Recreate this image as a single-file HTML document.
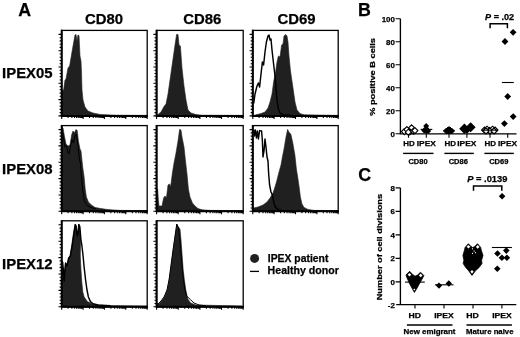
<!DOCTYPE html>
<html><head><meta charset="utf-8"><title>Figure</title>
<style>
html,body{margin:0;padding:0;background:#fff;}
svg{display:block;}
text{font-family:"Liberation Sans",Arial,Helvetica,sans-serif;font-weight:bold;fill:#000;stroke:#000;stroke-width:0.25px;}
.L{font-size:17.8px;}
.h{font-size:14.9px;}
.lg{font-size:10.4px;}
.m{font-size:7.9px;}
.s{font-size:7.9px;}
.s2{font-size:7.5px;}
.p{font-size:9.1px;}
</style></head><body>
<svg width="520" height="337" viewBox="0 0 520 337">
<rect width="520" height="337" fill="#fff"/>
<text x="18.3" y="16" class="L">A</text>
<text x="358.1" y="16" class="L">B</text>
<text x="358.2" y="181.2" class="L">C</text>
<text x="104" y="24" text-anchor="middle" class="h">CD80</text>
<text x="202.2" y="24" text-anchor="middle" class="h">CD86</text>
<text x="296.6" y="24" text-anchor="middle" class="h">CD69</text>
<text x="2.1" y="78.4" class="h">IPEX05</text>
<text x="2.1" y="174" class="h">IPEX08</text>
<text x="2.1" y="268.6" class="h">IPEX12</text>
<polygon points="61.6,115.9 61.6,91.0 63.6,90.0 65.0,80.0 66.0,79.0 68.0,68.0 69.6,66.0 73.0,46.0 75.0,35.0 76.0,34.4 77.0,41.0 78.0,35.0 79.0,35.6 80.0,56.0 81.0,61.0 81.5,72.0 82.0,90.0 83.0,100.0 85.0,107.0 88.0,111.0 93.0,113.0 100.0,114.4 116.0,115.2 147.0,115.4 147.0,115.9" fill="#202020" stroke="#202020" stroke-width="0.6" stroke-linejoin="round"/>
<rect x="61.7" y="30.4" width="85.5" height="85.5" fill="none" stroke="#000" stroke-width="1.3"/>
<path d="M61.7 29.8V115.9H147.8" fill="none" stroke="#000" stroke-width="2" stroke-linejoin="miter"/>
<path d="M58.5 34.4H61.7M59.6 37.7H61.7M59.6 40.9H61.7M59.6 44.2H61.7M59.6 47.4H61.7M58.5 50.7H61.7M59.6 54.0H61.7M59.6 57.2H61.7M59.6 60.5H61.7M59.6 63.7H61.7M58.5 67.0H61.7M59.6 70.3H61.7M59.6 73.5H61.7M59.6 76.8H61.7M59.6 80.0H61.7M58.5 83.3H61.7M59.6 86.6H61.7M59.6 89.8H61.7M59.6 93.1H61.7M59.6 96.3H61.7M58.5 99.6H61.7M59.6 102.9H61.7M59.6 106.1H61.7M59.6 109.4H61.7M59.6 112.6H61.7M58.5 115.9H61.7M61.7 115.9V118.9M68.1 115.9V117.9M71.9 115.9V117.9M74.6 115.9V117.9M76.6 115.9V117.9M78.3 115.9V117.9M79.8 115.9V117.9M81.0 115.9V117.9M82.1 115.9V117.9M83.1 115.9V118.9M89.5 115.9V117.9M93.3 115.9V117.9M95.9 115.9V117.9M98.0 115.9V117.9M99.7 115.9V117.9M101.1 115.9V117.9M102.4 115.9V117.9M103.5 115.9V117.9M104.4 115.9V118.9M110.9 115.9V117.9M114.6 115.9V117.9M117.3 115.9V117.9M119.4 115.9V117.9M121.1 115.9V117.9M122.5 115.9V117.9M123.8 115.9V117.9M124.8 115.9V117.9M125.8 115.9V118.9M132.3 115.9V117.9M136.0 115.9V117.9M138.7 115.9V117.9M140.8 115.9V117.9M142.5 115.9V117.9M143.9 115.9V117.9M145.1 115.9V117.9M146.2 115.9V117.9M147.2 115.9V118.9" stroke="#000" stroke-width="1.1" fill="none"/>
<polygon points="156.6,115.9 158.0,114.4 161.0,112.0 164.0,106.4 166.0,104.0 168.0,94.0 170.0,80.0 172.0,66.0 175.0,45.0 176.6,34.4 178.0,34.4 179.0,45.0 180.4,46.0 182.0,68.0 184.0,86.0 186.0,100.0 188.0,110.0 191.0,113.0 196.0,114.6 202.0,115.2 242.0,115.4 242.0,115.9" fill="#202020" stroke="#202020" stroke-width="0.6" stroke-linejoin="round"/>
<rect x="156.6" y="30.4" width="86.6" height="85.5" fill="none" stroke="#000" stroke-width="1.3"/>
<path d="M156.6 29.8V115.9H243.8" fill="none" stroke="#000" stroke-width="2" stroke-linejoin="miter"/>
<path d="M153.4 34.4H156.6M154.5 37.7H156.6M154.5 40.9H156.6M154.5 44.2H156.6M154.5 47.4H156.6M153.4 50.7H156.6M154.5 54.0H156.6M154.5 57.2H156.6M154.5 60.5H156.6M154.5 63.7H156.6M153.4 67.0H156.6M154.5 70.3H156.6M154.5 73.5H156.6M154.5 76.8H156.6M154.5 80.0H156.6M153.4 83.3H156.6M154.5 86.6H156.6M154.5 89.8H156.6M154.5 93.1H156.6M154.5 96.3H156.6M153.4 99.6H156.6M154.5 102.9H156.6M154.5 106.1H156.6M154.5 109.4H156.6M154.5 112.6H156.6M153.4 115.9H156.6M156.6 115.9V118.9M163.1 115.9V117.9M166.9 115.9V117.9M169.6 115.9V117.9M171.7 115.9V117.9M173.4 115.9V117.9M174.9 115.9V117.9M176.2 115.9V117.9M177.3 115.9V117.9M178.2 115.9V118.9M184.8 115.9V117.9M188.6 115.9V117.9M191.3 115.9V117.9M193.4 115.9V117.9M195.1 115.9V117.9M196.5 115.9V117.9M197.8 115.9V117.9M198.9 115.9V117.9M199.9 115.9V118.9M206.4 115.9V117.9M210.2 115.9V117.9M212.9 115.9V117.9M215.0 115.9V117.9M216.7 115.9V117.9M218.2 115.9V117.9M219.5 115.9V117.9M220.6 115.9V117.9M221.5 115.9V118.9M228.1 115.9V117.9M231.9 115.9V117.9M234.6 115.9V117.9M236.7 115.9V117.9M238.4 115.9V117.9M239.8 115.9V117.9M241.1 115.9V117.9M242.2 115.9V117.9M243.2 115.9V118.9" stroke="#000" stroke-width="1.1" fill="none"/>
<polygon points="252.8,115.9 256.0,114.8 261.0,113.6 265.0,112.0 268.0,108.0 270.0,102.0 272.0,94.0 273.6,82.0 275.6,72.0 277.0,62.0 278.4,56.0 280.0,57.0 281.6,45.0 283.0,44.0 284.0,36.0 285.6,34.4 287.0,36.0 288.0,42.0 289.0,56.0 290.4,70.0 291.5,78.0 293.0,88.0 295.0,102.0 297.0,110.0 300.0,113.6 304.0,114.8 338.0,115.4 338.0,115.9" fill="#202020" stroke="#202020" stroke-width="0.6" stroke-linejoin="round"/>
<polyline points="253.8,103.0 255.0,94.0 257.0,86.0 258.4,83.0 259.6,87.0 261.0,74.0 262.4,62.0 263.6,65.0 265.0,52.0 266.4,42.0 268.0,36.0 269.0,35.0 270.0,40.0 271.0,39.0 272.0,50.0 273.6,64.0 275.0,76.0 276.0,88.0 277.0,100.0 278.4,109.0 280.0,113.0 283.0,114.6 290.0,115.2" fill="none" stroke="#000" stroke-width="1.45" stroke-linejoin="round" stroke-linecap="round"/>
<rect x="252.8" y="30.4" width="85.4" height="85.5" fill="none" stroke="#000" stroke-width="1.3"/>
<path d="M252.8 29.8V115.9H338.8" fill="none" stroke="#000" stroke-width="2" stroke-linejoin="miter"/>
<path d="M249.6 34.4H252.8M250.7 37.7H252.8M250.7 40.9H252.8M250.7 44.2H252.8M250.7 47.4H252.8M249.6 50.7H252.8M250.7 54.0H252.8M250.7 57.2H252.8M250.7 60.5H252.8M250.7 63.7H252.8M249.6 67.0H252.8M250.7 70.3H252.8M250.7 73.5H252.8M250.7 76.8H252.8M250.7 80.0H252.8M249.6 83.3H252.8M250.7 86.6H252.8M250.7 89.8H252.8M250.7 93.1H252.8M250.7 96.3H252.8M249.6 99.6H252.8M250.7 102.9H252.8M250.7 106.1H252.8M250.7 109.4H252.8M250.7 112.6H252.8M249.6 115.9H252.8M252.8 115.9V118.9M259.2 115.9V117.9M263.0 115.9V117.9M265.7 115.9V117.9M267.7 115.9V117.9M269.4 115.9V117.9M270.8 115.9V117.9M272.1 115.9V117.9M273.2 115.9V117.9M274.1 115.9V118.9M280.6 115.9V117.9M284.3 115.9V117.9M287.0 115.9V117.9M289.1 115.9V117.9M290.8 115.9V117.9M292.2 115.9V117.9M293.4 115.9V117.9M294.5 115.9V117.9M295.5 115.9V118.9M301.9 115.9V117.9M305.7 115.9V117.9M308.4 115.9V117.9M310.4 115.9V117.9M312.1 115.9V117.9M313.5 115.9V117.9M314.8 115.9V117.9M315.9 115.9V117.9M316.9 115.9V118.9M323.3 115.9V117.9M327.0 115.9V117.9M329.7 115.9V117.9M331.8 115.9V117.9M333.5 115.9V117.9M334.9 115.9V117.9M336.1 115.9V117.9M337.2 115.9V117.9M338.2 115.9V118.9" stroke="#000" stroke-width="1.1" fill="none"/>
<polygon points="61.6,211.3 61.6,127.0 63.0,128.0 64.4,136.0 66.0,144.0 68.0,146.0 70.0,145.0 71.6,135.0 73.0,131.0 74.4,133.0 76.0,129.4 77.2,130.6 78.4,141.0 80.0,149.0 81.0,151.0 82.8,168.0 84.0,176.0 85.2,189.0 86.4,197.0 88.4,202.0 91.4,205.0 95.0,207.4 101.0,208.6 108.0,209.6 120.0,210.4 147.0,210.6 147.0,211.3" fill="#202020" stroke="#202020" stroke-width="0.6" stroke-linejoin="round"/>
<polyline points="62.0,129.0 63.5,138.0 65.0,147.0 66.5,146.0 68.0,153.0 69.0,154.0 70.5,146.0 72.0,140.0 73.5,143.0 75.0,136.0 76.5,134.0 78.0,146.0 79.5,160.0 80.5,163.0 81.5,178.0 83.0,192.0 84.5,201.0 87.0,205.5 91.0,207.5 96.0,208.8" fill="none" stroke="#000" stroke-width="1" stroke-linejoin="round"/>
<rect x="61.7" y="125.6" width="85.5" height="85.7" fill="none" stroke="#000" stroke-width="1.3"/>
<path d="M61.7 125.0V211.3H147.8" fill="none" stroke="#000" stroke-width="2" stroke-linejoin="miter"/>
<path d="M58.5 129.6H61.7M59.6 132.9H61.7M59.6 136.1H61.7M59.6 139.4H61.7M59.6 142.7H61.7M58.5 145.9H61.7M59.6 149.2H61.7M59.6 152.5H61.7M59.6 155.7H61.7M59.6 159.0H61.7M58.5 162.3H61.7M59.6 165.5H61.7M59.6 168.8H61.7M59.6 172.1H61.7M59.6 175.4H61.7M58.5 178.6H61.7M59.6 181.9H61.7M59.6 185.2H61.7M59.6 188.4H61.7M59.6 191.7H61.7M58.5 195.0H61.7M59.6 198.2H61.7M59.6 201.5H61.7M59.6 204.8H61.7M59.6 208.0H61.7M58.5 211.3H61.7M61.7 211.3V214.3M68.1 211.3V213.3M71.9 211.3V213.3M74.6 211.3V213.3M76.6 211.3V213.3M78.3 211.3V213.3M79.8 211.3V213.3M81.0 211.3V213.3M82.1 211.3V213.3M83.1 211.3V214.3M89.5 211.3V213.3M93.3 211.3V213.3M95.9 211.3V213.3M98.0 211.3V213.3M99.7 211.3V213.3M101.1 211.3V213.3M102.4 211.3V213.3M103.5 211.3V213.3M104.4 211.3V214.3M110.9 211.3V213.3M114.6 211.3V213.3M117.3 211.3V213.3M119.4 211.3V213.3M121.1 211.3V213.3M122.5 211.3V213.3M123.8 211.3V213.3M124.8 211.3V213.3M125.8 211.3V214.3M132.3 211.3V213.3M136.0 211.3V213.3M138.7 211.3V213.3M140.8 211.3V213.3M142.5 211.3V213.3M143.9 211.3V213.3M145.1 211.3V213.3M146.2 211.3V213.3M147.2 211.3V214.3" stroke="#000" stroke-width="1.1" fill="none"/>
<polygon points="156.6,211.3 157.6,189.0 158.4,200.0 159.0,206.0 162.0,206.0 163.6,198.0 165.0,196.0 166.4,198.0 168.0,185.0 169.6,184.0 170.6,187.0 172.4,173.0 174.0,163.0 176.0,153.0 178.0,141.0 179.6,129.4 181.0,130.0 182.0,137.0 184.0,147.0 185.6,162.0 187.0,174.0 188.4,189.0 190.0,197.0 192.4,203.0 195.0,206.0 198.0,208.6 202.0,209.8 210.0,210.4 242.0,210.6 242.0,211.3" fill="#202020" stroke="#202020" stroke-width="0.6" stroke-linejoin="round"/>
<rect x="156.6" y="125.6" width="86.6" height="85.7" fill="none" stroke="#000" stroke-width="1.3"/>
<path d="M156.6 125.0V211.3H243.8" fill="none" stroke="#000" stroke-width="2" stroke-linejoin="miter"/>
<path d="M153.4 129.6H156.6M154.5 132.9H156.6M154.5 136.1H156.6M154.5 139.4H156.6M154.5 142.7H156.6M153.4 145.9H156.6M154.5 149.2H156.6M154.5 152.5H156.6M154.5 155.7H156.6M154.5 159.0H156.6M153.4 162.3H156.6M154.5 165.5H156.6M154.5 168.8H156.6M154.5 172.1H156.6M154.5 175.4H156.6M153.4 178.6H156.6M154.5 181.9H156.6M154.5 185.2H156.6M154.5 188.4H156.6M154.5 191.7H156.6M153.4 195.0H156.6M154.5 198.2H156.6M154.5 201.5H156.6M154.5 204.8H156.6M154.5 208.0H156.6M153.4 211.3H156.6M156.6 211.3V214.3M163.1 211.3V213.3M166.9 211.3V213.3M169.6 211.3V213.3M171.7 211.3V213.3M173.4 211.3V213.3M174.9 211.3V213.3M176.2 211.3V213.3M177.3 211.3V213.3M178.2 211.3V214.3M184.8 211.3V213.3M188.6 211.3V213.3M191.3 211.3V213.3M193.4 211.3V213.3M195.1 211.3V213.3M196.5 211.3V213.3M197.8 211.3V213.3M198.9 211.3V213.3M199.9 211.3V214.3M206.4 211.3V213.3M210.2 211.3V213.3M212.9 211.3V213.3M215.0 211.3V213.3M216.7 211.3V213.3M218.2 211.3V213.3M219.5 211.3V213.3M220.6 211.3V213.3M221.5 211.3V214.3M228.1 211.3V213.3M231.9 211.3V213.3M234.6 211.3V213.3M236.7 211.3V213.3M238.4 211.3V213.3M239.8 211.3V213.3M241.1 211.3V213.3M242.2 211.3V213.3M243.2 211.3V214.3" stroke="#000" stroke-width="1.1" fill="none"/>
<polygon points="252.8,211.3 253.6,208.0 258.0,207.0 263.0,205.0 267.0,202.0 270.0,198.0 273.0,193.0 275.0,187.0 277.0,180.0 279.0,172.0 281.0,165.0 282.4,157.0 284.0,149.0 286.0,137.0 287.6,129.4 289.2,132.5 290.8,134.0 292.8,143.0 294.9,155.0 296.4,169.0 297.7,177.0 299.0,186.0 300.4,197.0 302.0,204.0 304.0,207.4 308.0,209.4 314.0,210.4 338.0,210.6 338.0,211.3" fill="#202020" stroke="#202020" stroke-width="0.6" stroke-linejoin="round"/>
<polyline points="253.8,130.0 254.4,136.0 255.4,130.0 256.4,138.0 257.4,131.0 258.4,139.0 259.6,130.6 261.6,131.0 262.4,141.0 263.0,157.0 264.0,151.0 265.0,139.0 266.0,147.0 267.0,157.0 268.0,161.0 268.6,173.0 269.6,185.0 271.0,192.0 272.4,195.0 274.0,203.0 275.6,207.4 278.0,209.4 282.0,210.4 290.0,210.6" fill="none" stroke="#000" stroke-width="1.45" stroke-linejoin="round" stroke-linecap="round"/>
<rect x="252.8" y="125.6" width="85.4" height="85.7" fill="none" stroke="#000" stroke-width="1.3"/>
<path d="M252.8 125.0V211.3H338.8" fill="none" stroke="#000" stroke-width="2" stroke-linejoin="miter"/>
<path d="M249.6 129.6H252.8M250.7 132.9H252.8M250.7 136.1H252.8M250.7 139.4H252.8M250.7 142.7H252.8M249.6 145.9H252.8M250.7 149.2H252.8M250.7 152.5H252.8M250.7 155.7H252.8M250.7 159.0H252.8M249.6 162.3H252.8M250.7 165.5H252.8M250.7 168.8H252.8M250.7 172.1H252.8M250.7 175.4H252.8M249.6 178.6H252.8M250.7 181.9H252.8M250.7 185.2H252.8M250.7 188.4H252.8M250.7 191.7H252.8M249.6 195.0H252.8M250.7 198.2H252.8M250.7 201.5H252.8M250.7 204.8H252.8M250.7 208.0H252.8M249.6 211.3H252.8M252.8 211.3V214.3M259.2 211.3V213.3M263.0 211.3V213.3M265.7 211.3V213.3M267.7 211.3V213.3M269.4 211.3V213.3M270.8 211.3V213.3M272.1 211.3V213.3M273.2 211.3V213.3M274.1 211.3V214.3M280.6 211.3V213.3M284.3 211.3V213.3M287.0 211.3V213.3M289.1 211.3V213.3M290.8 211.3V213.3M292.2 211.3V213.3M293.4 211.3V213.3M294.5 211.3V213.3M295.5 211.3V214.3M301.9 211.3V213.3M305.7 211.3V213.3M308.4 211.3V213.3M310.4 211.3V213.3M312.1 211.3V213.3M313.5 211.3V213.3M314.8 211.3V213.3M315.9 211.3V213.3M316.9 211.3V214.3M323.3 211.3V213.3M327.0 211.3V213.3M329.7 211.3V213.3M331.8 211.3V213.3M333.5 211.3V213.3M334.9 211.3V213.3M336.1 211.3V213.3M337.2 211.3V213.3M338.2 211.3V214.3" stroke="#000" stroke-width="1.1" fill="none"/>
<polygon points="61.7,306.8 61.7,266.0 63.0,268.0 64.0,274.0 65.6,263.0 67.0,266.0 68.4,258.0 70.0,256.0 71.6,246.0 73.0,236.0 74.2,229.0 75.2,224.2 76.0,225.0 76.8,233.0 77.3,236.0 78.0,233.0 78.8,224.2 79.6,225.0 80.2,231.0 80.5,243.0 80.3,256.0 81.0,270.0 81.8,282.0 82.8,292.0 84.2,297.0 87.4,301.4 91.0,303.4 96.0,304.8 104.0,305.6 147.0,306.0 147.0,306.8" fill="#202020" stroke="#202020" stroke-width="0.6" stroke-linejoin="round"/>
<polyline points="62.6,262.0 63.4,270.0 64.2,281.0 65.6,263.0 67.0,266.0 68.8,258.0 70.4,256.0 72.2,246.0 73.6,236.0 74.6,229.0 75.3,224.6 76.0,226.0 76.8,233.0 77.3,236.0 78.0,233.0 78.8,224.6 79.6,226.0 80.3,232.0 80.9,240.0 81.8,245.0 83.0,255.0 84.0,266.0 85.6,280.0 87.0,290.0 88.4,297.0 90.4,301.6 93.0,303.8 98.0,305.0 110.0,305.8" fill="none" stroke="#000" stroke-width="1.45" stroke-linejoin="round" stroke-linecap="round"/>
<rect x="61.7" y="220.8" width="85.5" height="86.0" fill="none" stroke="#000" stroke-width="1.3"/>
<path d="M61.7 220.2V306.8H147.8" fill="none" stroke="#000" stroke-width="2" stroke-linejoin="miter"/>
<path d="M58.5 224.8H61.7M59.6 228.1H61.7M59.6 231.4H61.7M59.6 234.6H61.7M59.6 237.9H61.7M58.5 241.2H61.7M59.6 244.5H61.7M59.6 247.8H61.7M59.6 251.0H61.7M59.6 254.3H61.7M58.5 257.6H61.7M59.6 260.9H61.7M59.6 264.2H61.7M59.6 267.4H61.7M59.6 270.7H61.7M58.5 274.0H61.7M59.6 277.3H61.7M59.6 280.6H61.7M59.6 283.8H61.7M59.6 287.1H61.7M58.5 290.4H61.7M59.6 293.7H61.7M59.6 297.0H61.7M59.6 300.2H61.7M59.6 303.5H61.7M58.5 306.8H61.7M61.7 306.8V309.8M68.1 306.8V308.8M71.9 306.8V308.8M74.6 306.8V308.8M76.6 306.8V308.8M78.3 306.8V308.8M79.8 306.8V308.8M81.0 306.8V308.8M82.1 306.8V308.8M83.1 306.8V309.8M89.5 306.8V308.8M93.3 306.8V308.8M95.9 306.8V308.8M98.0 306.8V308.8M99.7 306.8V308.8M101.1 306.8V308.8M102.4 306.8V308.8M103.5 306.8V308.8M104.4 306.8V309.8M110.9 306.8V308.8M114.6 306.8V308.8M117.3 306.8V308.8M119.4 306.8V308.8M121.1 306.8V308.8M122.5 306.8V308.8M123.8 306.8V308.8M124.8 306.8V308.8M125.8 306.8V309.8M132.3 306.8V308.8M136.0 306.8V308.8M138.7 306.8V308.8M140.8 306.8V308.8M142.5 306.8V308.8M143.9 306.8V308.8M145.1 306.8V308.8M146.2 306.8V308.8M147.2 306.8V309.8" stroke="#000" stroke-width="1.1" fill="none"/>
<polygon points="156.6,306.8 157.6,303.0 159.0,304.0 162.0,300.4 165.0,296.0 167.6,289.0 169.2,280.0 171.2,265.0 173.2,250.0 175.2,236.0 176.8,224.4 178.4,227.0 180.0,229.0 181.0,240.0 182.2,256.0 183.2,270.0 184.4,280.0 185.8,290.0 187.8,299.0 190.6,303.0 196.0,305.0 242.0,306.0 242.0,306.8" fill="#202020" stroke="#202020" stroke-width="0.6" stroke-linejoin="round"/>
<polyline points="158.0,304.0 161.0,301.0 164.0,297.0 167.0,290.0 169.2,279.0 171.2,264.0 173.2,249.0 175.2,235.0 176.8,224.0 178.4,228.0 180.0,240.0 181.2,256.0 182.4,270.0 183.6,281.0 185.0,290.0 186.6,296.0 190.4,299.6 194.0,303.0 199.0,305.0 206.0,305.8" fill="none" stroke="#000" stroke-width="1" stroke-linejoin="round"/>
<rect x="156.6" y="220.8" width="86.6" height="86.0" fill="none" stroke="#000" stroke-width="1.3"/>
<path d="M156.6 220.2V306.8H243.8" fill="none" stroke="#000" stroke-width="2" stroke-linejoin="miter"/>
<path d="M153.4 224.8H156.6M154.5 228.1H156.6M154.5 231.4H156.6M154.5 234.6H156.6M154.5 237.9H156.6M153.4 241.2H156.6M154.5 244.5H156.6M154.5 247.8H156.6M154.5 251.0H156.6M154.5 254.3H156.6M153.4 257.6H156.6M154.5 260.9H156.6M154.5 264.2H156.6M154.5 267.4H156.6M154.5 270.7H156.6M153.4 274.0H156.6M154.5 277.3H156.6M154.5 280.6H156.6M154.5 283.8H156.6M154.5 287.1H156.6M153.4 290.4H156.6M154.5 293.7H156.6M154.5 297.0H156.6M154.5 300.2H156.6M154.5 303.5H156.6M153.4 306.8H156.6M156.6 306.8V309.8M163.1 306.8V308.8M166.9 306.8V308.8M169.6 306.8V308.8M171.7 306.8V308.8M173.4 306.8V308.8M174.9 306.8V308.8M176.2 306.8V308.8M177.3 306.8V308.8M178.2 306.8V309.8M184.8 306.8V308.8M188.6 306.8V308.8M191.3 306.8V308.8M193.4 306.8V308.8M195.1 306.8V308.8M196.5 306.8V308.8M197.8 306.8V308.8M198.9 306.8V308.8M199.9 306.8V309.8M206.4 306.8V308.8M210.2 306.8V308.8M212.9 306.8V308.8M215.0 306.8V308.8M216.7 306.8V308.8M218.2 306.8V308.8M219.5 306.8V308.8M220.6 306.8V308.8M221.5 306.8V309.8M228.1 306.8V308.8M231.9 306.8V308.8M234.6 306.8V308.8M236.7 306.8V308.8M238.4 306.8V308.8M239.8 306.8V308.8M241.1 306.8V308.8M242.2 306.8V308.8M243.2 306.8V309.8" stroke="#000" stroke-width="1.1" fill="none"/>
<circle cx="254.6" cy="258.4" r="4.5" fill="#202020"/>
<path d="M250 271.4H259" stroke="#000" stroke-width="1.3"/>
<text x="267.8" y="261.6" class="lg">IPEX patient</text>
<text x="267.6" y="274.4" class="lg" textLength="71.2" lengthAdjust="spacingAndGlyphs">Healthy donor</text>
<path d="M400.4 18.8V133.8H516.5" stroke="#000" stroke-width="1.35" fill="none"/>
<path d="M395.6 133.8H400.4M395.6 110.8H400.4M395.6 87.8H400.4M395.6 64.8H400.4M395.6 41.8H400.4M395.6 18.8H400.4M408.5 133.8V137.8M426.3 133.8V137.8M449 133.8V137.8M466.9 133.8V137.8M490 133.8V137.8M507.7 133.8V137.8" stroke="#000" stroke-width="1.1" fill="none"/>
<text x="394.8" y="136.6" text-anchor="end" class="s">0</text>
<text x="394.8" y="113.6" text-anchor="end" class="s">20</text>
<text x="394.8" y="90.6" text-anchor="end" class="s">40</text>
<text x="394.8" y="67.6" text-anchor="end" class="s">60</text>
<text x="394.8" y="44.6" text-anchor="end" class="s">80</text>
<text x="394.8" y="21.6" text-anchor="end" class="s">100</text>
<path d="M404.4 128.6L407.4 131.6L404.4 134.6L401.4 131.6Z" fill="#fff" stroke="#000" stroke-width="1.1"/>
<path d="M406.9 126.6L409.9 129.6L406.9 132.6L403.9 129.6Z" fill="#fff" stroke="#000" stroke-width="1.1"/>
<path d="M411.6 124.8L414.6 127.8L411.6 130.8L408.6 127.8Z" fill="#fff" stroke="#000" stroke-width="1.1"/>
<path d="M409.8 129.0L412.8 132.0L409.8 135.0L406.8 132.0Z" fill="#fff" stroke="#000" stroke-width="1.1"/>
<path d="M413.4 128.2L416.4 131.2L413.4 134.2L410.4 131.2Z" fill="#fff" stroke="#000" stroke-width="1.1"/>
<path d="M414.9 127.6L417.9 130.6L414.9 133.6L411.9 130.6Z" fill="#fff" stroke="#000" stroke-width="1.1"/>
<path d="M408.3 129.2L411.3 132.2L408.3 135.2L405.3 132.2Z" fill="#fff" stroke="#000" stroke-width="1.1"/>
<path d="M426.2 122.9L429.2 125.9L426.2 128.9L423.2 125.9Z" fill="#000"/>
<path d="M426.2 125.6L429.2 128.6L426.2 131.6L423.2 128.6Z" fill="#000"/>
<path d="M424.2 127.6L427.2 130.6L424.2 133.6L421.2 130.6Z" fill="#000"/>
<path d="M428.2 128.0L431.2 131.0L428.2 134.0L425.2 131.0Z" fill="#000"/>
<path d="M426.3 128.0L429.3 131.0L426.3 134.0L423.3 131.0Z" fill="#000"/>
<path d="M420.6 129.4H432.3" stroke="#000" stroke-width="1.1"/>
<path d="M446.5 128.0L449.5 131.0L446.5 134.0L443.5 131.0Z" fill="#000" stroke="#000" stroke-width="1"/>
<path d="M448.0 127.0L451.0 130.0L448.0 133.0L445.0 130.0Z" fill="#000" stroke="#000" stroke-width="1"/>
<path d="M449.0 126.6L452.0 129.6L449.0 132.6L446.0 129.6Z" fill="#000" stroke="#000" stroke-width="1"/>
<path d="M450.0 127.0L453.0 130.0L450.0 133.0L447.0 130.0Z" fill="#000" stroke="#000" stroke-width="1"/>
<path d="M451.5 128.0L454.5 131.0L451.5 134.0L448.5 131.0Z" fill="#000" stroke="#000" stroke-width="1"/>
<path d="M449.0 128.0L452.0 131.0L449.0 134.0L446.0 131.0Z" fill="#000" stroke="#000" stroke-width="1"/>
<path d="M447.5 127.5L450.5 130.5L447.5 133.5L444.5 130.5Z" fill="#000" stroke="#000" stroke-width="1"/>
<path d="M450.5 127.5L453.5 130.5L450.5 133.5L447.5 130.5Z" fill="#000" stroke="#000" stroke-width="1"/>
<path d="M443.5 130.4H454.5" stroke="#000" stroke-width="1.1"/>
<path d="M464.4 123.6L469.6 128.8L464.4 134.0L459.2 128.8Z" fill="#000"/>
<path d="M470.6 122.3L475.6 127.3L470.6 132.3L465.6 127.3Z" fill="#000"/>
<path d="M467.0 127.0L470.4 130.4L467.0 133.8L463.6 130.4Z" fill="#000"/>
<path d="M461 129H473" stroke="#000" stroke-width="1.1"/>
<path d="M484.5 127.0L487.5 130.0L484.5 133.0L481.5 130.0Z" fill="#fff" stroke="#000" stroke-width="1.1"/>
<path d="M487.0 126.2L490.0 129.2L487.0 132.2L484.0 129.2Z" fill="#fff" stroke="#000" stroke-width="1.1"/>
<path d="M489.5 127.4L492.5 130.4L489.5 133.4L486.5 130.4Z" fill="#fff" stroke="#000" stroke-width="1.1"/>
<path d="M492.5 126.2L495.5 129.2L492.5 132.2L489.5 129.2Z" fill="#fff" stroke="#000" stroke-width="1.1"/>
<path d="M495.0 127.0L498.0 130.0L495.0 133.0L492.0 130.0Z" fill="#fff" stroke="#000" stroke-width="1.1"/>
<path d="M490.0 128.0L493.0 131.0L490.0 134.0L487.0 131.0Z" fill="#fff" stroke="#000" stroke-width="1.1"/>
<path d="M486.0 128.0L489.0 131.0L486.0 134.0L483.0 131.0Z" fill="#fff" stroke="#000" stroke-width="1.1"/>
<path d="M494.0 128.0L497.0 131.0L494.0 134.0L491.0 131.0Z" fill="#fff" stroke="#000" stroke-width="1.1"/>
<path d="M482 130.2H498" stroke="#000" stroke-width="1"/>
<path d="M513.1 28.9L516.5 32.3L513.1 35.7L509.7 32.3Z" fill="#000"/>
<path d="M505.0 38.1L508.4 41.5L505.0 44.9L501.6 41.5Z" fill="#000"/>
<path d="M507.7 93.1L511.1 96.5L507.7 99.9L504.3 96.5Z" fill="#000"/>
<path d="M513.2 113.2L516.6 116.6L513.2 120.0L509.8 116.6Z" fill="#000"/>
<path d="M504.4 120.2L507.8 123.6L504.4 127.0L501.0 123.6Z" fill="#000"/>
<path d="M501.9 82.5H513.8" stroke="#000" stroke-width="1.1"/>
<text x="403.25" y="146.2" class="m" textLength="11.5" lengthAdjust="spacingAndGlyphs">HD</text>
<text x="416.75" y="146.2" class="m" textLength="19.2" lengthAdjust="spacingAndGlyphs">IPEX</text>
<text x="444.5" y="146.2" class="m" textLength="11.5" lengthAdjust="spacingAndGlyphs">HD</text>
<text x="457.25" y="146.2" class="m" textLength="19.0" lengthAdjust="spacingAndGlyphs">IPEX</text>
<text x="484.5" y="146.2" class="m" textLength="11.5" lengthAdjust="spacingAndGlyphs">HD</text>
<text x="498.0" y="146.2" class="m" textLength="19.1" lengthAdjust="spacingAndGlyphs">IPEX</text>
<path d="M403.1 153.4H433.5" stroke="#000" stroke-width="1.4"/>
<text x="418" y="163.8" text-anchor="middle" class="s2">CD80</text>
<path d="M444.4 153.4H473.8" stroke="#000" stroke-width="1.4"/>
<text x="458.3" y="163.8" text-anchor="middle" class="s2">CD86</text>
<path d="M484.4 153.4H513.8" stroke="#000" stroke-width="1.4"/>
<text x="498.8" y="163.8" text-anchor="middle" class="s2">CD69</text>
<text x="485.1" y="19.7" class="p"><tspan font-style="italic">P</tspan> = .02</text>
<path d="M490.1 28.3V23.8H507.4V28.3" stroke="#000" stroke-width="1.5" fill="none"/>
<text transform="translate(375.2 115.8) rotate(-90)" class="m" textLength="77.8" lengthAdjust="spacingAndGlyphs">% positive B cells</text>
<path d="M400.4 187.9V304.6" stroke="#000" stroke-width="1.35" fill="none"/>
<path d="M396.2 304.6H516.3" stroke="#000" stroke-width="1.35" fill="none"/>
<path d="M395.6 281.9H400.4M395.6 258.4H400.4M395.6 234.9H400.4M395.6 211.4H400.4M395.6 187.9H400.4M415 304.6V308.6M444 304.6V308.6M473 304.6V308.6M501.9 304.6V308.6" stroke="#000" stroke-width="1.1" fill="none"/>
<text x="394.8" y="308.1" text-anchor="end" class="s">-2</text>
<text x="394.8" y="284.6" text-anchor="end" class="s">0</text>
<text x="394.8" y="261.1" text-anchor="end" class="s">2</text>
<text x="394.8" y="237.6" text-anchor="end" class="s">4</text>
<text x="394.8" y="214.1" text-anchor="end" class="s">6</text>
<text x="394.8" y="190.6" text-anchor="end" class="s">8</text>
<path d="M409.6 271.3L405.9 275L407.5 279L410 284.5L412.5 289L414.4 292.4L416.5 289L419 284.5L421.8 279.5L423.9 275.6L420.5 272.2L417.6 275L415 276.2L412.6 274.4Z" fill="#000" stroke="#000" stroke-width="0.8" stroke-linejoin="round"/>
<path d="M409.5 272.9L411.3 274.7L409.5 276.5L407.7 274.7Z" fill="#fff"/>
<path d="M420.7 273.59999999999997L422.5 275.4L420.7 277.2L418.9 275.4Z" fill="#fff"/>
<path d="M414.3 288.4L415.3 289.4L414.3 290.4L413.3 289.4Z" fill="#fff"/>
<path d="M405 282.1H424.8" stroke="#000" stroke-width="1.1"/>
<path d="M439.0 282.4L442.2 285.6L439.0 288.8L435.8 285.6Z" fill="#000"/>
<path d="M448.8 280.3L452.0 283.5L448.8 286.7L445.6 283.5Z" fill="#000"/>
<path d="M435 284.8H453.5" stroke="#000" stroke-width="1.1"/>
<path d="M468.4 243.7L465.2 247.3L464.3 250.7L462.9 255.5L463.9 260.2L463.2 263.6L465.9 267.7L468.6 270.7L472 275.4L475.5 270.7L478.9 267.7L482 263.6L481.6 260.2L483 255.5L481.2 250L480.6 247.3L477.5 243.7L474.6 246.6L472.7 247.6L471 246.4Z" fill="#000" stroke="#000" stroke-width="0.8" stroke-linejoin="round"/>
<path d="M468.4 244.89999999999998L470.2 246.7L468.4 248.5L466.59999999999997 246.7Z" fill="#fff"/>
<path d="M477.7 245.1L479.5 246.9L477.7 248.70000000000002L475.9 246.9Z" fill="#fff"/>
<path d="M472 270.1L473.7 271.8L472 273.5L470.3 271.8Z" fill="#fff"/>
<rect x="471.95" y="248.25" width="1.1" height="1.1" fill="#fff"/>
<rect x="473.55" y="250.54999999999998" width="1.1" height="1.1" fill="#fff"/>
<rect x="471.95" y="252.85" width="1.1" height="1.1" fill="#fff"/>
<rect x="474.95" y="252.14999999999998" width="1.1" height="1.1" fill="#fff"/>
<path d="M502.1 192.9L505.4 196.2L502.1 199.5L498.8 196.2Z" fill="#000"/>
<path d="M506.3 247.3L509.6 250.6L506.3 253.9L503.0 250.6Z" fill="#000"/>
<path d="M497.5 250.2L500.8 253.5L497.5 256.8L494.2 253.5Z" fill="#000"/>
<path d="M501.9 254.5L505.2 257.8L501.9 261.1L498.6 257.8Z" fill="#000"/>
<path d="M506.9 254.5L510.2 257.8L506.9 261.1L503.6 257.8Z" fill="#000"/>
<path d="M497.3 265.5L500.6 268.8L497.3 272.1L494.0 268.8Z" fill="#000"/>
<path d="M491.9 247.5H511.9" stroke="#000" stroke-width="1.1"/>
<text x="408.4" y="317.8" class="m" textLength="12.5" lengthAdjust="spacingAndGlyphs">HD</text>
<text x="434.2" y="317.8" class="m" textLength="19.5" lengthAdjust="spacingAndGlyphs">IPEX</text>
<text x="466.29999999999995" y="317.8" class="m" textLength="12.6" lengthAdjust="spacingAndGlyphs">HD</text>
<text x="492.2" y="317.8" class="m" textLength="19.5" lengthAdjust="spacingAndGlyphs">IPEX</text>
<path d="M406.9 325H452.5M466.5 325H511.9" stroke="#000" stroke-width="1.5"/>
<text x="403.5" y="334" class="s2" textLength="52" lengthAdjust="spacingAndGlyphs">New emigrant</text>
<text x="466" y="334" class="s2" textLength="47.5" lengthAdjust="spacingAndGlyphs">Mature naive</text>
<text x="467.2" y="181.8" class="p" textLength="40.2" lengthAdjust="spacingAndGlyphs"><tspan font-style="italic">P</tspan> = .0139</text>
<path d="M473.5 190.7V186H501.8V190.7" stroke="#000" stroke-width="1.5" fill="none"/>
<text transform="translate(381.5 300.3) rotate(-90)" class="m" textLength="106.4" lengthAdjust="spacingAndGlyphs">Number of cell divisions</text>
</svg>
</body></html>
